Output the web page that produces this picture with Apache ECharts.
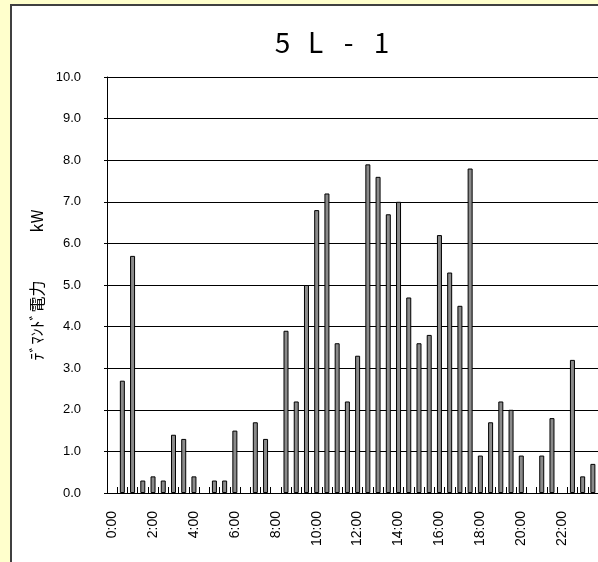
<!DOCTYPE html>
<html>
<head>
<meta charset="utf-8">
<script src="https://cdn.jsdelivr.net/npm/echarts@6/dist/echarts.min.js"></script>
<style>
html,body{margin:0;padding:0;background:#FFFFCC;width:598px;height:562px;overflow:hidden;}
#frame{position:absolute;left:10px;top:4px;width:588px;height:558px;background:#fff;border-left:2px solid #404040;border-top:2px solid #404040;box-sizing:border-box;}
#chart{position:absolute;left:0;top:0;width:586px;height:556px;}
</style>
</head>
<body>
<div id="frame"><div id="chart"></div></div>
<script>
const titleChars = ['5', 'L', '-', '1'];
const yAxisName = 'ﾃﾞﾏﾝﾄﾞ電力　　　kW';
const categories = ['0:00','0:30','1:00','1:30','2:00','2:30','3:00','3:30','4:00','4:30','5:00','5:30',
  '6:00','6:30','7:00','7:30','8:00','8:30','9:00','9:30','10:00','10:30','11:00','11:30',
  '12:00','12:30','13:00','13:30','14:00','14:30','15:00','15:30','16:00','16:30','17:00','17:30',
  '18:00','18:30','19:00','19:30','20:00','20:30','21:00','21:30','22:00','22:30','23:00','23:30'];
const demand = [null,2.7,5.7,0.3,0.4,0.3,1.4,1.3,0.4,null,0.3,0.3,
  1.5,null,1.7,1.3,null,3.9,2.2,5.0,6.8,7.2,3.6,2.2,
  3.3,7.9,7.6,6.7,7.0,4.7,3.6,3.8,6.2,5.3,4.5,7.8,
  0.9,1.7,2.2,2.0,0.9,null,0.9,1.8,null,3.2,0.4,0.7];
const yMin = 0, yMax = 10, yStep = 1;

const chart = echarts.init(document.getElementById('chart'), null, {renderer:'canvas'});
const font = 'Liberation Sans, Arial, sans-serif';
chart.setOption({
  animation: false,
  graphic: [{
    type: 'text',
    style: {
      text: titleChars.map(c => '{c|' + c + '}').join(''),
      x: 320, y: 36, align: 'center', verticalAlign: 'middle',
      rich: {c: {width: 33, align: 'center', fontSize: 28, fontFamily: 'Noto Sans CJK JP', color: '#000'}}
    }
  }],
  grid: {left: 95, top: 71, right: -1, height: 416},
  xAxis: {
    type: 'category',
    data: categories,
    boundaryGap: true,
    axisLine: {lineStyle: {color: '#000', width: 1}},
    axisTick: {show: true, interval: 0, inside: true, length: 6, lineStyle: {color: '#000'}},
    axisLabel: {interval: 3, rotate: 90, margin: 18, fontSize: 14, fontFamily: font, color: '#000'},
    splitLine: {show: false}
  },
  yAxis: {
    type: 'value',
    min: yMin, max: yMax, interval: yStep,
    name: yAxisName,
    nameLocation: 'middle',
    nameRotate: 90,
    nameGap: 60,
    nameTextStyle: {fontSize: 16, fontFamily: 'Noto Sans CJK JP', color: '#000'},
    axisLine: {show: true, lineStyle: {color: '#000', width: 1}},
    axisTick: {show: true, length: 3, lineStyle: {color: '#000'}},
    axisLabel: {formatter: v => v.toFixed(1), fontSize: 13, fontFamily: font, color: '#000', margin: 26},
    splitLine: {show: true, lineStyle: {color: '#000', width: 1}}
  },
  series: [{
    type: 'bar',
    data: demand,
    barWidth: 5,
    itemStyle: {color: '#8a8a8a', borderColor: '#000', borderWidth: 1}
  }]
});
</script>
</body>
</html>
